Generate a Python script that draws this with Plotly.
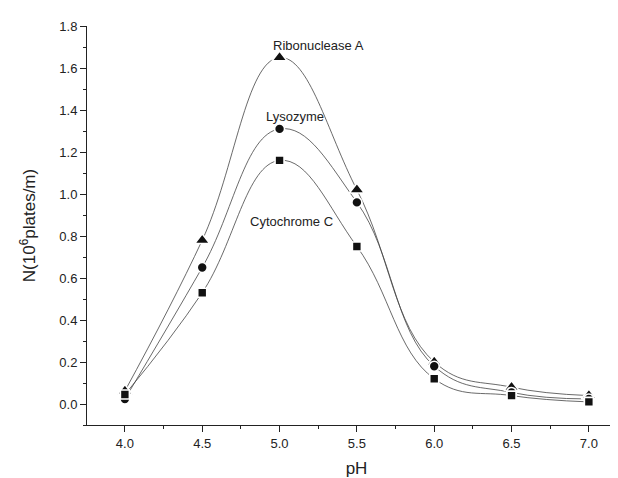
import plotly.graph_objects as go

ph = [4.0, 4.5, 5.0, 5.5, 6.0, 6.5, 7.0]
ribonuclease_a = [0.062, 0.78, 1.65, 1.02, 0.20, 0.08, 0.04]
lysozyme = [0.024, 0.65, 1.31, 0.96, 0.18, 0.055, 0.024]
cytochrome_c = [0.045, 0.53, 1.16, 0.75, 0.12, 0.04, 0.01]

series = [
    ("Ribonuclease A", ribonuclease_a, "triangle-up", 13),
    ("Lysozyme", lysozyme, "circle", 10),
    ("Cytochrome C", cytochrome_c, "square", 9),
]

fig = go.Figure()
for name, vals, sym, sz in series:
    fig.add_trace(go.Scatter(
        x=ph, y=vals, mode="lines", name=name,
        line=dict(shape="spline", smoothing=1.2, color="#444444", width=0.8),
        showlegend=False, hoverinfo="skip"))
for name, vals, sym, sz in series:
    fig.add_trace(go.Scatter(
        x=ph, y=vals, mode="markers", name=name,
        marker=dict(symbol=sym, size=sz, color="#111111",
                    line=dict(color="white", width=1.6)),
        showlegend=False))

font_family = "Liberation Sans, Arial, sans-serif"
labels = [("Ribonuclease A", 5.25, 1.705), ("Lysozyme", 5.10, 1.37), ("Cytochrome C", 5.08, 0.87)]
for txt, x, y in labels:
    fig.add_annotation(x=x, y=y, text=txt, showarrow=False,
                       font=dict(size=13, color="#222222", family=font_family))

fig.update_layout(
    width=618, height=478,
    margin=dict(l=79, r=0, t=18, b=61),
    paper_bgcolor="white", plot_bgcolor="white",
    font=dict(family=font_family, color="#222222"),
)
fig.update_xaxes(
    range=[3.755, 7.24], tickmode="array",
    tickvals=[4.0, 4.5, 5.0, 5.5, 6.0, 6.5, 7.0],
    ticktext=["4.0", "4.5", "5.0", "5.5", "6.0", "6.5", "7.0"],
    ticks="outside", ticklen=6, tickwidth=1, tickcolor="#222222",
    minor=dict(dtick=0.25, tick0=3.75, ticks="outside", ticklen=3, tickcolor="#222222", tickwidth=1),
    showline=True, linecolor="#222222", linewidth=1, showgrid=False, zeroline=False,
    tickfont=dict(size=13), title=dict(text="pH", font=dict(size=17), standoff=12),
)
fig.update_yaxes(
    range=[-0.1, 1.8], tickmode="array",
    tickvals=[0.0, 0.2, 0.4, 0.6, 0.8, 1.0, 1.2, 1.4, 1.6, 1.8],
    ticktext=["0.0", "0.2", "0.4", "0.6", "0.8", "1.0", "1.2", "1.4", "1.6", "1.8"],
    ticks="outside", ticklen=6, tickwidth=1, tickcolor="#222222",
    minor=dict(dtick=0.1, tick0=0.0, ticks="outside", ticklen=3, tickcolor="#222222", tickwidth=1),
    showline=True, linecolor="#222222", linewidth=1, showgrid=False, zeroline=False,
    tickfont=dict(size=13), title=dict(text="N(10<sup>6</sup>plates/m)", font=dict(size=17), standoff=19),
)

fig.write_html("out.html")
